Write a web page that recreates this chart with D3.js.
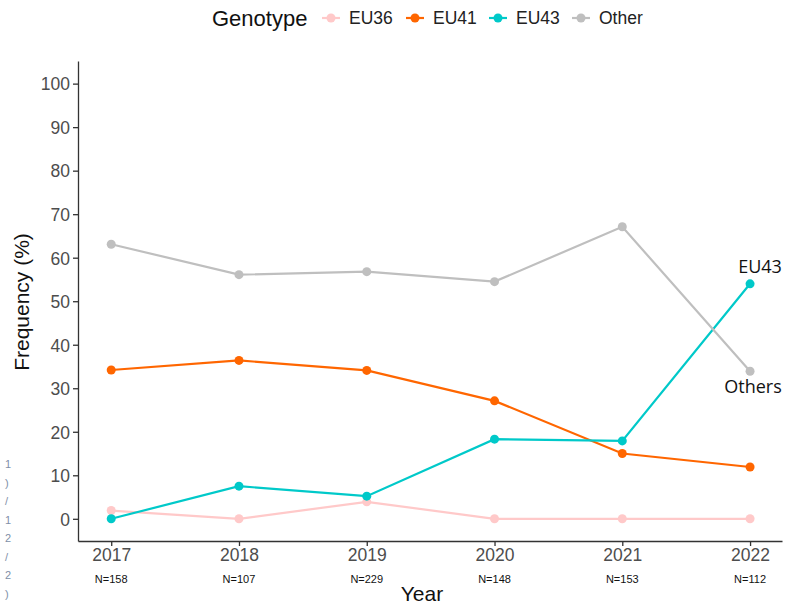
<!DOCTYPE html>
<html lang="en">
    <head>
        <meta charset="utf-8">
        <title>Genotype frequency</title>
        <script src="https://cdn.jsdelivr.net/npm/d3@7/dist/d3.min.js" charset="utf-8"></script>
        <style type="text/css">
            body { margin: 0; background: #fff; }
            #chart { width: 785px; height: 605px; }
            text { font-family: "Liberation Sans", Arial, sans-serif; }
        </style>
    </head>
    <body>
        <div id="chart"></div>
        <script>
            // Datos
            var years = [2017, 2018, 2019, 2020, 2021, 2022];
            var sampleN = ["N=158", "N=107", "N=229", "N=148", "N=153", "N=112"];
            var genotypes = ["EU36", "EU41", "EU43", "Other"];
            var eu36 = [1.9, 0, 3.9, 0, 0, 0];
            var eu41 = [34.2, 36.4, 34.1, 27.1, 15.0, 11.9];
            var eu43 = [0, 7.5, 5.2, 18.3, 17.9, 54.0];
            var other = [63.1, 56.1, 56.8, 54.5, 67.1, 33.9];
            var yTicks = [0, 10, 20, 30, 40, 50, 60, 70, 80, 90, 100];
            var colors = ["#ffc9c9", "#ff6600", "#00c9c9", "#bfbfbf"];
            var sideChars = ["1", ")", "/", "1", "2", "/", "2", ")"];

            var series = [eu36, eu41, eu43, other].map(function(v, i) {
                return {
                    name: genotypes[i],
                    values: v.map(function(d, j) { return { year: years[j], v: d }; })
                };
            });

            var margin = { top: 61, right: 3, bottom: 64, left: 78 };
            var width = 785 - margin.left - margin.right,
                height = 605 - margin.top - margin.bottom;

            var root = d3.select("#chart").append("svg")
                .attr("width", 785)
                .attr("height", 605);

            var svg = root.append("g")
                .attr("transform", "translate(" + margin.left + "," + margin.top + ")");

            var color = d3.scaleOrdinal().domain(genotypes).range(colors);

            // Eje x (continuo con 5% de expansion, como ggplot)
            var x = d3.scaleLinear()
                .domain([2017 - 0.26, 2022 + 0.25])
                .range([0, width]);

            // Eje y
            var y = d3.scaleLinear()
                .domain([-5.1, 105.2])
                .range([height, 0]);

            var xAxis = d3.axisBottom(x).tickValues(years).tickFormat(d3.format("d"))
                .tickSizeInner(5).tickSizeOuter(0).tickPadding(3);
            var gx = svg.append("g")
                .attr("transform", "translate(0," + height + ")")
                .call(xAxis);
            gx.selectAll("text").attr("font-size", 17.5).attr("fill", "#4d4d4d")
                .style("font-family", "Liberation Sans, Arial, sans-serif");

            var yAxis = d3.axisLeft(y).tickValues(yTicks)
                .tickSizeInner(5).tickSizeOuter(0).tickPadding(3);
            var gy = svg.append("g").call(yAxis);
            gy.selectAll("text").attr("font-size", 17.5).attr("fill", "#4d4d4d")
                .attr("dy", "0.36em")
                .style("font-family", "Liberation Sans, Arial, sans-serif");

            [gx, gy].forEach(function(g) {
                g.select(".domain").attr("stroke", "#333").attr("stroke-width", 1.3);
                g.selectAll(".tick line").attr("stroke", "#333").attr("stroke-width", 1.3);
            });

            // N por ano
            svg.append("g").selectAll("text")
                .data(years)
                .enter().append("text")
                .attr("x", function(d) { return x(d); })
                .attr("y", height + 42)
                .attr("text-anchor", "middle")
                .attr("font-size", 11)
                .attr("fill", "#111")
                .text(function(d, i) { return sampleN[i]; });

            // Titulos
            svg.append("text")
                .attr("x", width / 2 - 8)
                .attr("y", height + 60)
                .attr("text-anchor", "middle")
                .attr("font-size", 21)
                .attr("fill", "#111")
                .text("Year");

            root.append("text")
                .attr("transform", "translate(29,302) rotate(-90)")
                .attr("text-anchor", "middle")
                .attr("font-size", 21)
                .attr("fill", "#111")
                .text("Frequency (%)");

            // Lineas
            var line = d3.line()
                .x(function(d) { return x(d.year); })
                .y(function(d) { return y(d.v); });

            var groups = svg.selectAll(".serie")
                .data(series)
                .enter().append("g")
                .attr("class", "serie");

            groups.append("path")
                .attr("d", function(d) { return line(d.values); })
                .attr("fill", "none")
                .attr("stroke", function(d) { return color(d.name); })
                .attr("stroke-width", 2.2);

            groups.selectAll("circle")
                .data(function(d) { return d.values.map(function(p) { return { name: d.name, year: p.year, v: p.v }; }); })
                .enter().append("circle")
                .attr("cx", function(d) { return x(d.year); })
                .attr("cy", function(d) { return y(d.v); })
                .attr("r", 4.5)
                .attr("fill", function(d) { return color(d.name); });

            // Anotaciones
            svg.append("text")
                .attr("x", x(2022) + 10)
                .attr("y", y(eu43[5]) - 11)
                .attr("text-anchor", "middle")
                .attr("font-size", 18)
                .attr("fill", "#111")
                .style("font-family", "Open Sans, sans-serif")
                .text("EU43");

            svg.append("text")
                .attr("x", x(2022) + 3)
                .attr("y", y(other[5]) + 22)
                .attr("text-anchor", "middle")
                .attr("font-size", 18)
                .attr("fill", "#111")
                .style("font-family", "Open Sans, sans-serif")
                .text("Others");

            // Leyenda
            var legend = root.append("g").attr("transform", "translate(0,18)");
            legend.append("text")
                .attr("x", 212)
                .attr("dy", "0.36em")
                .attr("font-size", 22)
                .attr("fill", "#111")
                .text("Genotype");

            var keyX = [331, 415, 498, 581];
            var item = legend.selectAll(".key")
                .data(genotypes)
                .enter().append("g")
                .attr("class", "key")
                .attr("transform", function(d, i) { return "translate(" + keyX[i] + ",0)"; });
            item.append("line")
                .attr("x1", -9).attr("x2", 9)
                .attr("stroke", function(d) { return color(d); })
                .attr("stroke-width", 2.2);
            item.append("circle")
                .attr("r", 4.5)
                .attr("fill", function(d) { return color(d); });
            item.append("text")
                .attr("x", 18)
                .attr("dy", "0.36em")
                .attr("font-size", 17.5)
                .attr("fill", "#222")
                .text(function(d) { return d; });

            // Restos de la captura en el borde izquierdo
            root.append("g").selectAll("text")
                .data(sideChars)
                .enter().append("text")
                .attr("x", 5)
                .attr("y", function(d, i) { return 468 + i * 18.5; })
                .attr("font-size", 11)
                .attr("fill", "#8090a8")
                .text(function(d) { return d; });
        </script>
    </body>
</html>
